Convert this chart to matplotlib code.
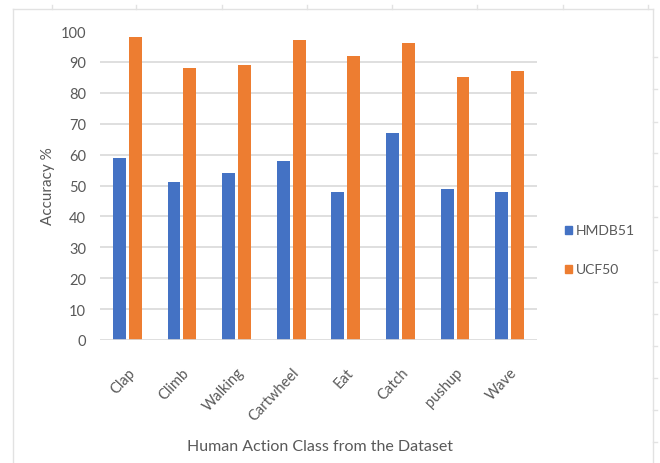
import matplotlib
matplotlib.use("Agg")
import matplotlib.pyplot as plt
from matplotlib.lines import Line2D
from matplotlib.patches import Rectangle

categories = ["Clap", "Climb", "Walking", "Cartwheel", "Eat", "Catch", "pushup", "Wave"]
hmdb51 = [59, 51, 54, 58, 48, 67, 49, 48]
ucf50 = [98, 88, 89, 97, 92, 96, 85, 87]
series_names = ["HMDB51", "UCF50"]
yticks = [0, 10, 20, 30, 40, 50, 60, 70, 80, 90, 100]

BLUE = "#4472C4"
ORANGE = "#ED7D31"
GRID = "#d9d9d9"
TEXT = "#595959"
FONT = ["Lato", "DejaVu Sans"]

W, H = 660, 464
fig = plt.figure(figsize=(W / 100, H / 100), dpi=100)
fig.patch.set_facecolor("white")

# outer frame: left and top lines with small ticks, right line with ticks
frame_col = "#e2e2e2"
fig.add_artist(Line2D([13 / W, 13 / W], [0, 1 - 10 / H], color=frame_col, lw=1.0))
fig.add_artist(Line2D([13 / W, 653 / W], [1 - 10 / H, 1 - 10 / H], color=frame_col, lw=1.0))
fig.add_artist(Line2D([653 / W, 653 / W], [0, 1 - 10 / H], color=frame_col, lw=1.0))
for tx in [52, 136, 222, 307, 392, 477, 563, 648]:
    fig.add_artist(Line2D([tx / W, tx / W], [1 - 10 / H, 1 - 6 / H], color=frame_col, lw=1.0))
for ty in [58, 90, 123, 154, 187, 218, 251, 283, 315, 347, 379, 411, 443]:
    fig.add_artist(Line2D([653 / W, 657 / W], [1 - ty / H, 1 - ty / H], color=frame_col, lw=1.0))

ax = fig.add_axes([100 / W, (H - 341) / H, 437 / W, 309 / H])
ax.set_xlim(-0.5, len(categories) - 0.5)
ax.set_ylim(0, 100)

x = list(range(len(categories)))
bw = 0.235
gap = 0.055
ax.bar([i - (bw + gap) / 2 for i in x], hmdb51, width=bw, color=BLUE, zorder=3)
ax.bar([i + (bw + gap) / 2 for i in x], ucf50, width=bw, color=ORANGE, zorder=3)

for v in yticks[1:-1]:
    ax.axhline(v, color=GRID, lw=1.2, zorder=1)
ax.axhline(0, color=GRID, lw=1.2, zorder=4)

for s in ax.spines.values():
    s.set_visible(False)
ax.set_yticks(yticks)
ax.set_yticklabels([str(v) for v in yticks], fontsize=10.5, color=TEXT, family=FONT)
ax.tick_params(axis="y", length=0, pad=10)
ax.set_xticks(x)
ax.set_xticklabels(categories, rotation=47, ha="right", va="top", rotation_mode="anchor",
                   fontsize=10.5, color=TEXT, family=FONT)
ax.tick_params(axis="x", length=0, pad=18)

ax.set_ylabel("Accuracy %", fontsize=11, color=TEXT, family=FONT, labelpad=4)
fig.text(320 / W, 1 - 447 / H, "Human Action Class from the Dataset", ha="center", va="center",
         fontsize=11.5, color=TEXT, family=FONT)

# legend
for name, col, ly in [(series_names[0], BLUE, 231), (series_names[1], ORANGE, 270)]:
    fig.add_artist(Rectangle((565 / W, 1 - (ly + 4) / H), 7 / W, 8 / H, color=col,
                             transform=fig.transFigure))
    fig.text(576 / W, 1 - ly / H, name, ha="left", va="center", fontsize=10,
             color=TEXT, family=FONT)

fig.savefig("out.png", dpi=100, facecolor="white")
